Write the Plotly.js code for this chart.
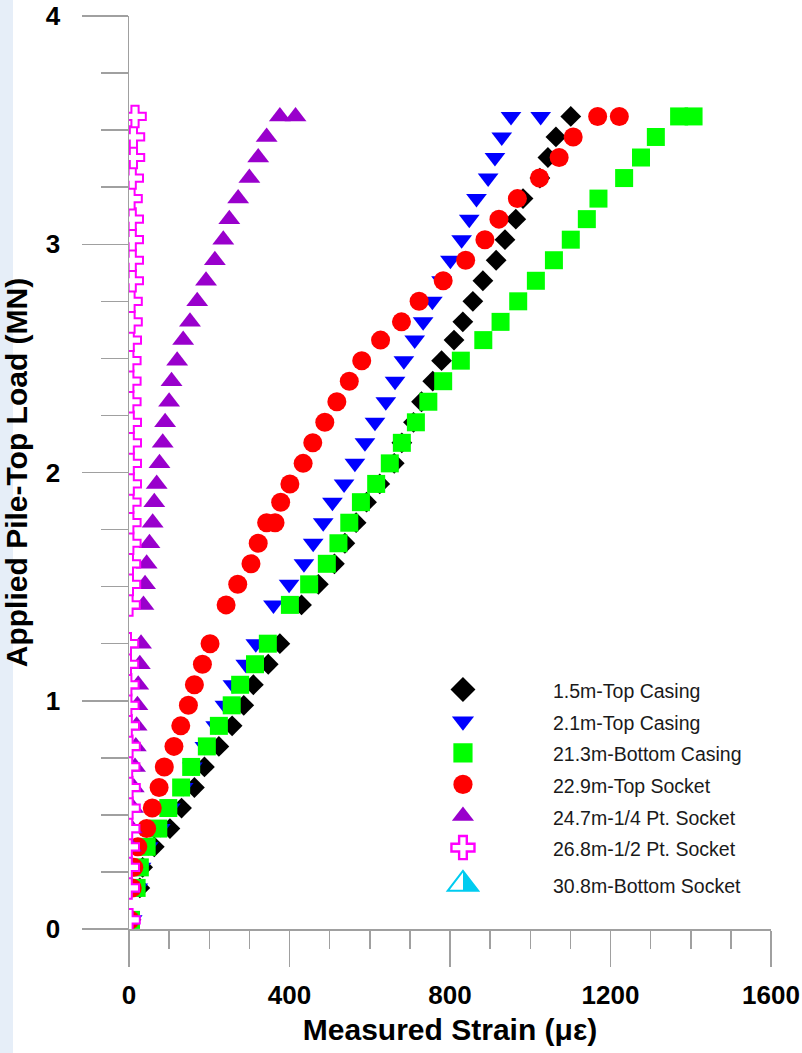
<!DOCTYPE html>
<html>
<head>
<meta charset="utf-8">
<script src="https://cdn.plot.ly/plotly-3.0.1.min.js"></script>
<style>
  html, body { margin: 0; padding: 0; background: #ffffff; }
  #chart { width: 802px; height: 1053px; }
</style>
</head>
<body>
<div id="chart"></div>
<script>
// Applied pile-top load steps (MN)
const LOAD = [0.04, 0.18, 0.27, 0.36, 0.44, 0.53, 0.62, 0.71, 0.80, 0.89, 0.98, 1.07, 1.16, 1.25,
              1.42, 1.51, 1.60, 1.69, 1.78, 1.87, 1.95, 2.04, 2.13, 2.22, 2.31, 2.40, 2.49, 2.58,
              2.66, 2.75, 2.84, 2.93, 3.02, 3.11, 3.20, 3.29, 3.38, 3.47, 3.56];

// Measured strain (microstrain) at each load step, per gauge level
const STRAIN_1_5M = [5, 27, 34, 63, 102, 131, 163, 188, 224, 257, 286, 310, 347, 376,
                     430, 472, 512, 538, 566, 592, 625, 661, 680, 709, 729, 757, 779, 810,
                     832, 857, 882, 915, 937, 964, 982, 1024, 1044, 1064, 1101];
const STRAIN_2_1M = [8, 22, 30, 48, 78, 103, 135, 158, 189, 216, 239, 259, 291, 316,
                     360, 399, 436, 459, 484, 507, 536, 563, 588, 613, 640, 663, 685, 712,
                     733, 756, 779, 801, 829, 848, 866, 895, 912, 929, 952];
const STRAIN_21_3M = [5, 19, 27, 44, 73, 98, 130, 155, 194, 224, 256, 277, 314, 346,
                      401, 449, 493, 522, 549, 578, 616, 650, 680, 715, 746, 783, 827, 883,
                      926, 970, 1014, 1059, 1101, 1141, 1170, 1234, 1276, 1313, 1371];
const STRAIN_22_9M = [3, 8, 12, 22, 44, 58, 75, 88, 112, 129, 148, 163, 183, 202,
                      242, 271, 304, 322, 343, 378, 401, 434, 458, 488, 518, 549, 580, 627,
                      679, 723, 783, 839, 887, 922, 968, 1023, 1072, 1107, 1168];
const STRAIN_24_7M = [0, 0, 2, 5, 7, 10, 12, 15, 17, 19, 21, 23, 27, 30,
                      36, 40, 44, 51, 59, 63, 69, 76, 84, 90, 100, 106, 120, 135,
                      152, 170, 192, 214, 235, 250, 272, 300, 322, 343, 376];
const STRAIN_26_8M = [0, -2, -2, -2, -1, 0, 0, -1, 0, -2, -3, -3, -4, -4,
                      0, 1, 1, 2, 2, 2, 3, 3, 3, 3, 2, 2, 2, 3,
                      5, 5, 8, 8, 8, 8, 5, 8, 11, 11, 15];
// 30.8m gauge: no readings visible on the chart (legend entry only)
const STRAIN_30_8M = [null];
const LOAD_30_8M = [null];

// Extra readings taken while a load step was held
const HOLD_LOAD_2_1M = [3.56],  HOLD_STRAIN_2_1M = [1026];
const HOLD_LOAD_21_3M = [3.56], HOLD_STRAIN_21_3M = [1407];
const HOLD_LOAD_22_9M = [1.78, 3.56], HOLD_STRAIN_22_9M = [364, 1222];
const HOLD_LOAD_24_7M = [3.56], HOLD_STRAIN_24_7M = [415];

const SERIES_NAMES = ['1.5m-Top Casing', '2.1m-Top Casing', '21.3m-Bottom Casing', '22.9m-Top Socket',
                      '24.7m-1/4 Pt. Socket', '26.8m-1/2 Pt. Socket', '30.8m-Bottom Socket'];

const X_TICKS = [0, 400, 800, 1200, 1600];
const Y_TICKS = [0, 1, 2, 3, 4];

const CYAN = '#00ccf0';
const FONT = 'Liberation Sans, Arial, Helvetica, sans-serif';
const legendName = s => '<span style="font-size:19.5px">' + s + '</span>';

function mk(name, xs, ys, marker) {
  return { type: 'scatter', mode: 'markers', name: legendName(name), x: xs, y: ys,
           marker: marker, hoverinfo: 'x+y' };
}

const traces = [
  mk(SERIES_NAMES[0], STRAIN_1_5M, LOAD,
     { symbol: 'diamond', size: 16, color: '#000000', line: { width: 0 } }),
  mk(SERIES_NAMES[1], STRAIN_2_1M.concat(HOLD_STRAIN_2_1M), LOAD.concat(HOLD_LOAD_2_1M),
     { symbol: 'triangle-down', size: 18, color: '#0000ff', line: { width: 0 } }),
  mk(SERIES_NAMES[2], STRAIN_21_3M.concat(HOLD_STRAIN_21_3M), LOAD.concat(HOLD_LOAD_21_3M),
     { symbol: 'square', size: 18, color: '#00ff00', line: { width: 0 } }),
  mk(SERIES_NAMES[3], STRAIN_22_9M.concat(HOLD_STRAIN_22_9M), LOAD.concat(HOLD_LOAD_22_9M),
     { symbol: 'circle', size: 19, color: '#ff0000', line: { width: 0 } }),
  mk(SERIES_NAMES[4], STRAIN_24_7M.concat(HOLD_STRAIN_24_7M), LOAD.concat(HOLD_LOAD_24_7M),
     { symbol: 'triangle-up', size: 19, color: '#9900cc', line: { width: 0 } }),
  mk(SERIES_NAMES[5], STRAIN_26_8M, LOAD,
     { symbol: 'cross', size: 18, color: '#ffffff', line: { width: 2, color: '#ff00ff' } }),
  mk(SERIES_NAMES[6], STRAIN_30_8M, LOAD_30_8M,
     { symbol: 'triangle-up', size: 19, color: CYAN,
       gradient: { type: 'horizontal', color: '#ffffff' },
       line: { width: 1.2, color: CYAN } })
];

const axisCommon = {
  showgrid: false, zeroline: false, showline: true, linecolor: '#a0a0a0', linewidth: 1.5,
  ticks: 'outside', tickcolor: '#a0a0a0', tickwidth: 1.5,
  tickfont: { family: FONT, size: 26, color: '#000000', weight: 'bold' },
  fixedrange: true
};

const layout = {
  width: 802, height: 1053,
  margin: { l: 129, r: 31, t: 16, b: 124 },
  paper_bgcolor: '#ffffff', plot_bgcolor: '#ffffff',
  showlegend: true,
  legend: {
    x: 0.38, y: 0.285, xanchor: 'left', yanchor: 'top',
    bgcolor: 'rgba(0,0,0,0)', borderwidth: 0,
    font: { family: FONT, size: 22, color: '#1a1a1a' },
    itemwidth: 170, traceorder: 'normal'
  },
  xaxis: Object.assign({}, axisCommon, {
    range: [0, 1600], tickvals: X_TICKS, ticktext: X_TICKS.map(String),
    ticklen: 36, ticklabelstandoff: 6,
    minor: { dtick: 100, ticks: 'outside', ticklen: 18, tickcolor: '#a0a0a0', tickwidth: 1.5 },
    title: { text: 'Measured Strain (με)', font: { family: FONT, size: 30, color: '#000000', weight: 'bold' }, standoff: 10 }
  }),
  yaxis: Object.assign({}, axisCommon, {
    range: [0, 4], tickvals: Y_TICKS, ticktext: Y_TICKS.map(String),
    ticklen: 46, ticklabelstandoff: 16,
    minor: { dtick: 0.25, ticks: 'outside', ticklen: 27, tickcolor: '#a0a0a0', tickwidth: 1.5 },
    title: { text: 'Applied Pile-Top Load (MN)', font: { family: FONT, size: 30, color: '#000000', weight: 'bold' }, standoff: 10 }
  }),
  shapes: [{
    type: 'rect', xref: 'paper', yref: 'paper', layer: 'below',
    x0: -129 / 642, x1: -116 / 642, y0: -124 / 913, y1: 929 / 913,
    fillcolor: '#e6eef8', line: { width: 0 }
  }]
};

Plotly.newPlot('chart', traces, layout, { displayModeBar: false, staticPlot: true }).then(gd => {
  // enlarge legend glyphs to match the reference's symbol size
  const items = gd.querySelectorAll('.legend .traces');
  items.forEach((item, i) => {
    const last = (i === items.length - 1);
    const k = last ? 1.65 : 1.2;
    item.querySelectorAll('.legendpoints path.scatterpts').forEach(p => {
      const t = p.getAttribute('transform') || '';
      p.setAttribute('transform', t + ' scale(' + k + ')');
      if (last) {
        // half white / half cyan fill, as in the reference's legend glyph
        const fill = p.style.fill || p.getAttribute('fill') || '';
        const m = /#([^"')\s]+)/.exec(fill);
        const g = m && document.getElementById(m[1]);
        if (g) {
          while (g.firstChild) g.removeChild(g.firstChild);
          [['0%', '#ffffff'], ['50%', '#ffffff'], ['50%', CYAN], ['100%', CYAN]].forEach(([o, c]) => {
            const s = document.createElementNS('http://www.w3.org/2000/svg', 'stop');
            s.setAttribute('offset', o);
            s.setAttribute('stop-color', c);
            g.appendChild(s);
          });
          g.setAttribute('x1', '0'); g.setAttribute('x2', '1');
          g.setAttribute('y1', '0'); g.setAttribute('y2', '0');
        }
      }
    });
    if (last) {
      const t = item.getAttribute('transform') || '';
      item.setAttribute('transform', t + ' translate(0,5)');
    }
  });
});
</script>
</body>
</html>
